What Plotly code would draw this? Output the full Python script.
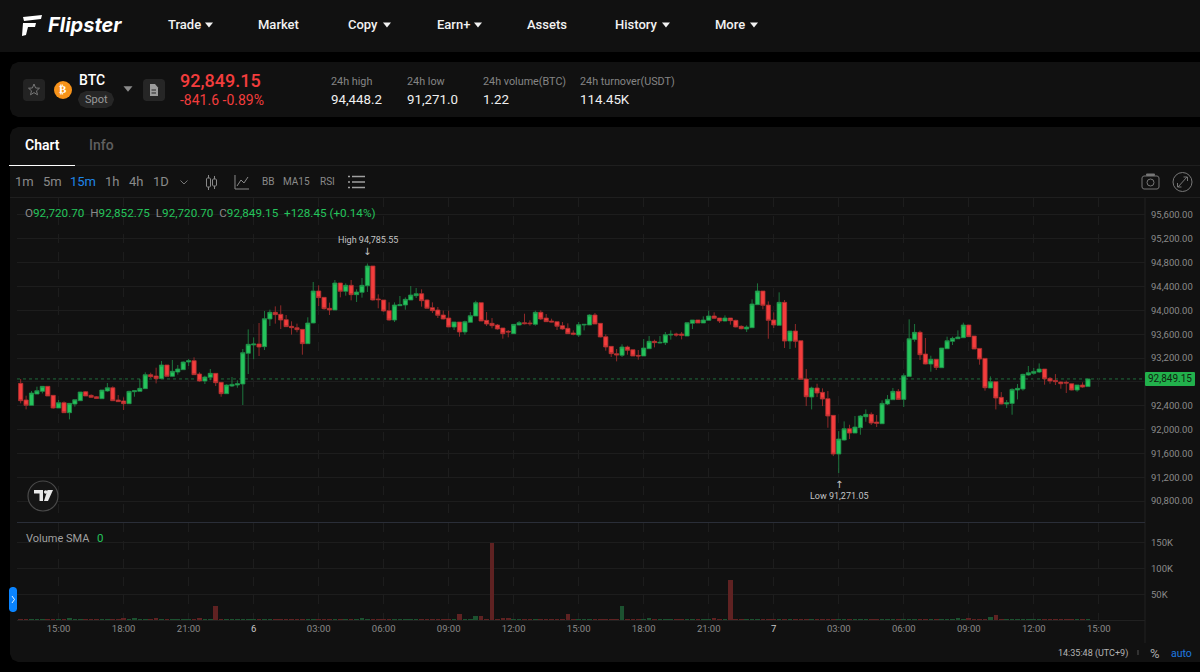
import pandas as pd
import plotly.graph_objects as go

W, H = 1200, 672

times = pd.date_range("2025-03-05 13:15", periods=198, freq="15min")

opens = [
    92775, 92496, 92406, 92596, 92641, 92725, 92574, 92361, 92451, 92283,
    92428, 92484, 92635, 92574, 92551, 92518, 92647, 92702, 92496, 92479,
    92434, 92635, 92641, 92686, 92921, 92898, 92854, 93083, 92893, 92965,
    93005, 93133, 93156, 92932, 92814, 92876, 92943, 92792, 92602, 92730,
    92747, 92764, 93279, 93419, 93435, 93391, 93855, 93967, 93933, 93844,
    93732, 93709, 93681, 93441, 93788, 94325, 94218, 94034, 94006, 94459,
    94319, 94420, 94263, 94302, 94414, 94744, 94190, 94174, 93995, 93838,
    94078, 94090, 94174, 94246, 94280, 94174, 94045, 94006, 93922, 93871,
    93720, 93804, 93637, 93799, 93905, 94129, 93832, 93782, 93754, 93704,
    93648, 93609, 93754, 93793, 93788, 93765, 93967, 93871, 93821, 93810,
    93743, 93698, 93620, 93586, 93754, 93754, 93922, 93782, 93558, 93396,
    93273, 93245, 93385, 93340, 93245, 93234, 93357, 93480, 93452, 93458,
    93586, 93603, 93603, 93569, 93782, 93838, 93788, 93832, 93905, 93871,
    93821, 93871, 93832, 93732, 93687, 93709, 94095, 94324, 94089, 93838,
    93748, 94134, 93485, 93653, 93491, 92848, 92545, 92697, 92624, 92518,
    92238, 91589, 91824, 92014, 91941, 92031, 92215, 92255, 92126, 92098,
    92428, 92501, 92641, 92506, 92892, 93513, 93631, 93267, 93099, 93178,
    93038, 93357, 93480, 93524, 93541, 93754, 93569, 93362, 93194, 92697,
    92803, 92540, 92428, 92439, 92663, 92680, 92915, 92943, 92965, 93015,
    92859, 92825, 92797, 92792, 92769, 92663, 92747, 92720.70,
]
highs = [
    92848, 92568, 92647, 92719, 92725, 92725, 92574, 92496, 92473, 92440,
    92501, 92630, 92647, 92591, 92563, 92663, 92781, 92725, 92579, 92540,
    92652, 92652, 92848, 92960, 92954, 93038, 93150, 93083, 93167, 93083,
    93144, 93184, 93211, 92960, 92904, 93016, 92943, 92792, 92758, 92881,
    92826, 93351, 93681, 93547, 93788, 93989, 94012, 94067, 94084, 93922,
    93816, 93777, 93681, 93883, 94476, 94420, 94218, 94129, 94509, 94459,
    94453, 94509, 94353, 94543, 94785.55, 94744, 94269, 94174, 94135, 94134,
    94241, 94218, 94409, 94375, 94353, 94185, 94134, 94056, 93995, 93995,
    93804, 93804, 93827, 93972, 94162, 94129, 93972, 93871, 93771, 93704,
    93670, 93765, 93821, 93944, 93832, 93995, 94000, 93939, 93860, 93810,
    93804, 93782, 93664, 93804, 93765, 93933, 93955, 93782, 93597, 93396,
    93351, 93430, 93407, 93340, 93334, 93519, 93569, 93508, 93569, 93637,
    93664, 93625, 93637, 93799, 93838, 93838, 93899, 93995, 93967, 93871,
    93916, 93871, 93843, 93748, 93748, 94185, 94453, 94324, 94151, 93966,
    94302, 94173, 93653, 93771, 93491, 93015, 92719, 92769, 92691, 92646,
    92238, 91975, 92137, 92081, 92227, 92243, 92338, 92288, 92243, 92490,
    92579, 92697, 92680, 92943, 93849, 93771, 93659, 93536, 93239, 93178,
    93368, 93558, 93558, 93664, 93793, 93754, 93569, 93362, 93194, 92892,
    92803, 92629, 92495, 92691, 92764, 92937, 93066, 93032, 93110, 93015,
    92881, 92931, 92808, 92820, 92769, 92747, 92792, 92852.75,
]
lows = [
    92440, 92339, 92406, 92596, 92607, 92563, 92350, 92361, 92283, 92171,
    92384, 92484, 92563, 92529, 92518, 92518, 92635, 92479, 92462, 92328,
    92434, 92551, 92641, 92686, 92865, 92775, 92854, 92893, 92887, 92921,
    93005, 93066, 92921, 92803, 92764, 92826, 92730, 92551, 92596, 92714,
    92702, 92412, 92932, 93178, 93234, 93335, 93737, 93777, 93687, 93721,
    93592, 93631, 93256, 93441, 93782, 94073, 94012, 93922, 94006, 94218,
    94246, 94168, 94140, 94213, 94308, 94163, 94034, 93978, 93827, 93804,
    94073, 94011, 94174, 94207, 94062, 94034, 93955, 93871, 93849, 93720,
    93670, 93558, 93592, 93799, 93905, 93821, 93737, 93698, 93676, 93525,
    93547, 93609, 93748, 93765, 93743, 93743, 93838, 93804, 93799, 93670,
    93676, 93603, 93581, 93553, 93664, 93754, 93771, 93547, 93323, 93217,
    93144, 93217, 93256, 93234, 93172, 93234, 93357, 93379, 93446, 93418,
    93508, 93558, 93513, 93569, 93687, 93788, 93788, 93827, 93855, 93788,
    93816, 93760, 93715, 93681, 93637, 93704, 94090, 94017, 93524, 93703,
    93748, 93368, 93351, 93373, 92836, 92394, 92338, 92545, 92394, 92031,
    91555, 91271.05, 91813, 91841, 91941, 91913, 92131, 92076, 92042, 92098,
    92411, 92495, 92501, 92378, 92887, 93474, 93166, 93094, 92971, 92999,
    93038, 93357, 93418, 93519, 93541, 93558, 93351, 93088, 92652, 92697,
    92338, 92422, 92361, 92249, 92506, 92652, 92904, 92920, 92948, 92753,
    92769, 92747, 92685, 92613, 92657, 92635, 92702, 92720.70,
]
closes = [
    92484, 92406, 92613, 92652, 92725, 92563, 92361, 92451, 92283, 92440,
    92501, 92630, 92563, 92540, 92523, 92663, 92702, 92484, 92468, 92434,
    92641, 92652, 92691, 92921, 92887, 92854, 93083, 92893, 92977, 93016,
    93133, 93156, 92921, 92814, 92881, 92943, 92786, 92602, 92747, 92758,
    92770, 93290, 93430, 93435, 93385, 93860, 93967, 93928, 93838, 93726,
    93709, 93676, 93441, 93788, 94325, 94213, 94028, 94006, 94459, 94319,
    94420, 94263, 94308, 94420, 94744, 94174, 94179, 93989, 93838, 94090,
    94095, 94185, 94257, 94280, 94162, 94034, 93995, 93916, 93855, 93720,
    93804, 93637, 93810, 93911, 94129, 93821, 93771, 93743, 93687, 93609,
    93637, 93765, 93793, 93776, 93776, 93967, 93855, 93810, 93804, 93732,
    93687, 93609, 93597, 93760, 93765, 93922, 93771, 93553, 93385, 93273,
    93250, 93385, 93329, 93234, 93234, 93368, 93480, 93458, 93463, 93592,
    93597, 93586, 93581, 93793, 93838, 93788, 93838, 93905, 93866, 93821,
    93871, 93827, 93720, 93692, 93720, 94106, 94325, 94084, 93832, 93754,
    94134, 93485, 93653, 93480, 92842, 92551, 92697, 92613, 92512, 92227,
    91589, 91841, 92014, 91941, 92042, 92227, 92255, 92109, 92104, 92439,
    92506, 92641, 92506, 92904, 93524, 93631, 93256, 93099, 93178, 93043,
    93368, 93491, 93530, 93552, 93754, 93558, 93351, 93183, 92702, 92803,
    92529, 92428, 92450, 92674, 92691, 92926, 92954, 92976, 93015, 92853,
    92814, 92803, 92769, 92780, 92663, 92747, 92713, 92849.15,
]
volumes = [
    600, 600, 600, 600, 600, 600, 600, 600, 600, 3000,
    1800, 600, 600, 600, 600, 600, 600, 600, 1500, 2000,
    600, 2000, 600, 600, 600, 2000, 1500, 600, 600, 600,
    600, 600, 600, 2000, 600, 600, 26500, 600, 600, 600,
    600, 600, 600, 600, 1500, 1500, 1500, 600, 600, 600,
    600, 600, 600, 600, 600, 600, 600, 600, 600, 600,
    600, 600, 600, 4000, 1500, 600, 600, 600, 600, 600,
    600, 600, 600, 600, 600, 600, 600, 1500, 600, 1500,
    600, 11700, 600, 1500, 7500, 8500, 600, 150000, 600, 2000,
    2000, 600, 600, 600, 600, 600, 600, 600, 600, 1500,
    600, 11700, 600, 600, 600, 600, 600, 600, 600, 600,
    600, 27000, 600, 600, 600, 600, 2000, 600, 600, 600,
    600, 600, 600, 600, 600, 600, 600, 600, 2000, 600,
    600, 77000, 600, 600, 600, 600, 600, 600, 600, 600,
    600, 600, 600, 600, 600, 1500, 600, 600, 600, 600,
    600, 600, 600, 600, 600, 600, 600, 600, 600, 600,
    600, 600, 600, 600, 600, 600, 600, 600, 600, 600,
    600, 600, 600, 2000, 600, 2000, 600, 1500, 600, 5500,
    9500, 600, 600, 600, 600, 600, 600, 600, 1500, 600,
    600, 1500, 600, 600, 600, 600, 600, 600,
]

price_ticks = [90800, 91200, 91600, 92000, 92400, 92800, 93200, 93600, 94000, 94400, 94800, 95200, 95600]
# the 92,800.00 label sits behind the last price tag in the app
price_tick_labels = ["90,800.00", "91,200.00", "91,600.00", "92,000.00", "92,400.00", "", "93,200.00", "93,600.00",
                     "94,000.00", "94,400.00", "94,800.00", "95,200.00", "95,600.00"]
volume_ticks = [50000, 100000, 150000]
volume_tick_labels = ["50K", "100K", "150K"]
time_ticks = ["2025-03-05 15:00", "2025-03-05 18:00", "2025-03-05 21:00", "2025-03-06 00:00",
              "2025-03-06 03:00", "2025-03-06 06:00", "2025-03-06 09:00", "2025-03-06 12:00",
              "2025-03-06 15:00", "2025-03-06 18:00", "2025-03-06 21:00", "2025-03-07 00:00",
              "2025-03-07 03:00", "2025-03-07 06:00", "2025-03-07 09:00", "2025-03-07 12:00",
              "2025-03-07 15:00"]
time_labels = ["15:00", "18:00", "21:00", "<span style='color:#c8c8c8'>6</span>", "03:00", "06:00", "09:00", "12:00",
               "15:00", "18:00", "21:00", "<span style='color:#c8c8c8'>7</span>", "03:00", "06:00", "09:00", "12:00",
               "15:00"]

last_price = 92849.15

GREEN = "#25c45c"
RED = "#f33d3d"
PANEL = "#111111"
GRID = "#1d1d1d"
FONT = "Roboto"

shapes = []
notes = []


def fx(x):
    return x / W


def fy(y):
    return 1 - y / H


def poly(points, fill=None, line=None, width=1, close=True, layer="above"):
    d = "M" + " L".join(f"{fx(x):.5f},{fy(y):.5f}" for x, y in points)
    if close:
        d += " Z"
    shapes.append(dict(type="path", path=d, xref="paper", yref="paper", layer=layer,
                       fillcolor=fill or "rgba(0,0,0,0)",
                       line=dict(color=line or "rgba(0,0,0,0)", width=width if line else 0)))


def rrect(x0, y0, x1, y1, r, fill, layer="below", line=None):
    # rounded box, corners cut in three steps which is enough at this size
    k = 0.3 * r
    pts = [(x0 + r, y0), (x1 - r, y0), (x1 - k, y0 + k), (x1, y0 + r), (x1, y1 - r), (x1 - k, y1 - k),
           (x1 - r, y1), (x0 + r, y1), (x0 + k, y1 - k), (x0, y1 - r), (x0, y0 + r), (x0 + k, y0 + k)]
    poly(pts, fill=fill, line=line, layer=layer)


def hline(x0, x1, y, color, width=1, layer="below"):
    poly([(x0, y), (x1, y)], line=color, width=width, close=False, layer=layer)


def vline(x, y0, y1, color, width=1, layer="below"):
    poly([(x, y0), (x, y1)], line=color, width=width, close=False, layer=layer)


def circle(cx, cy, r, fill=None, line=None, width=1):
    shapes.append(dict(type="circle", xref="paper", yref="paper", x0=fx(cx - r), x1=fx(cx + r),
                       y0=fy(cy + r), y1=fy(cy - r), fillcolor=fill or "rgba(0,0,0,0)",
                       line=dict(color=line or "rgba(0,0,0,0)", width=width if line else 0)))


def label(x, y, text, size=12, color="#ffffff", anchor="left", weight=400, family=FONT, style="normal"):
    notes.append(dict(x=fx(x), y=fy(y), xref="paper", yref="paper", text=text, showarrow=False,
                      xanchor=anchor, yanchor="middle", borderpad=0, align=anchor,
                      font=dict(size=size, color=color, family=family, weight=weight, style=style)))


def tri(cx, cy, s, color):
    poly([(cx - s, cy - s * 0.6), (cx + s, cy - s * 0.6), (cx, cy + s * 0.6)], fill=color)


# page panels
rrect(-2, -2, 1202, 52, 0.1, PANEL)
rrect(10, 62, 1210, 117, 8, PANEL)
rrect(10, 127, 1210, 662, 8, PANEL)

# nav
poly([(23, 17), (42, 15), (41, 19), (24, 21)], fill="#ffffff")
poly([(23, 23), (36, 23), (35, 27), (28, 27), (26, 35), (22, 36)], fill="#ffffff")
label(47, 25, "Flipster", 20, "#ffffff", weight=700, style="italic", family="Inter")
for x, txt in [(184, "Trade"), (278, "Market"), (363, "Copy"), (453, "Earn+"), (547, "Assets"), (636, "History"), (730, "More")]:
    label(x, 25, txt, 13, "#f2f2f2", anchor="center", weight=500)
for x in [209, 387, 478, 666, 754]:
    tri(x, 25, 4, "#f2f2f2")

# ticker row
rrect(23, 79, 45, 101, 3, "#232323")
star = [(34, 84), (35.6, 88), (39.5, 88.2), (36.5, 90.8), (37.5, 94.8), (34, 92.6), (30.5, 94.8), (31.5, 90.8), (28.5, 88.2), (32.4, 88)]
poly(star, line="#777777", width=1)
circle(63, 90, 9, fill="#f7931a")
label(63, 90, "₿", 11, "#ffffff", anchor="center", weight=700, family="DejaVu Sans")
label(78, 80, "BTC", 14, "#ffffff", weight=500)
rrect(78, 91, 114, 108, 8, "#262626", layer="above")
label(96, 99.5, "Spot", 11, "#9a9a9a", anchor="center")
tri(128, 89, 4.5, "#8a8a8a")
rrect(143, 79, 165, 101, 3, "#262626")
poly([(150, 84), (155, 84), (158, 87.5), (158, 96), (150, 96)], fill="#9c9c9c")
hline(151.5, 156, 90, "#262626", layer="above")
hline(151.5, 156, 93, "#262626", layer="above")
label(179, 80, "92,849.15", 18, RED, weight=500)
label(179, 100, "-841.6 -0.89%", 14, RED)
for x, top, bottom in [(330, "24h high", "94,448.2"), (406, "24h low", "91,271.0"),
                       (482, "24h volume(BTC)", "1.22"), (579, "24h turnover(USDT)", "114.45K")]:
    label(x, 81, top, 10.8, "#858585")
    label(x, 99, bottom, 13.3, "#f0f0f0")

# tabs
label(42, 145, "Chart", 14, "#ffffff", anchor="center", weight=600)
label(101, 145, "Info", 14, "#5f5f5f", anchor="center", weight=500)
hline(10, 1200, 165.5, "#1f1f1f")
hline(9, 75, 165.5, "#ffffff", layer="above")

# toolbar
for x, txt, col in [(24, "1m", "#8a8a8a"), (52, "5m", "#8a8a8a"), (83, "15m", "#1f86e8"),
                    (111.5, "1h", "#8a8a8a"), (136, "4h", "#8a8a8a"), (161, "1D", "#8a8a8a")]:
    label(x, 182, txt, 13, col, anchor="center")
poly([(180.5, 180.5), (184, 184), (187.5, 180.5)], line="#777777", close=False)
vline(208.5, 175, 190, "#8a8a8a")
rrect(206.5, 178, 210.5, 187, 1, PANEL, layer="above", line="#8a8a8a")
vline(214.5, 176, 189, "#8a8a8a", layer="above")
rrect(212.5, 179, 216.5, 186, 1, PANEL, layer="above", line="#8a8a8a")
poly([(235, 175), (235, 189), (249, 189)], line="#8a8a8a", close=False)
poly([(237, 186), (241, 180), (244, 183), (248, 177)], line="#8a8a8a", close=False)
label(268, 182, "BB", 10, "#8a8a8a", anchor="center")
label(296.5, 182, "MA15", 10, "#8a8a8a", anchor="center")
label(327, 182, "RSI", 10, "#8a8a8a", anchor="center")
for y in [176.5, 182, 187.5]:
    hline(352, 365, y, "#a0a0a0", width=1.5, layer="above")
    hline(348, 350, y, "#a0a0a0", width=1.5, layer="above")
rrect(1142, 176, 1159, 189, 2, PANEL, layer="above", line="#777777")
rrect(1146, 173.5, 1155, 176, 1, "#777777", layer="above")
circle(1150.5, 182.5, 3.5, line="#777777")
circle(1182.5, 182, 9.5, line="#777777")
poly([(1178, 187), (1187, 177)], line="#777777", close=False)
poly([(1183.5, 177), (1187.5, 177), (1187.5, 181)], line="#777777", close=False)
poly([(1177.5, 183), (1177.5, 187), (1181.5, 187)], line="#777777", close=False)
hline(10, 1200, 197.5, "#1f1f1f")


# OHLC legend
def ohlc_span(letter, value):
    return f"<span style='color:#8a8a8a'>{letter}</span><span style='color:{GREEN}'>{value}</span>"


legend_text = "  ".join(ohlc_span(a, b) for a, b in [("O", "92,720.70"), ("H", "92,852.75"), ("L", "92,720.70"), ("C", "92,849.15")])
label(24, 213, legend_text + f"<span style='color:{GREEN}'>  +128.45 (+0.14%)</span>", 11.7)

# chart frames and markers
vline(1145, 198, 643, "#222222")
hline(17, 1145, 522.5, "#2a2e38")
hline(17, 1145, 620.5, "#222222")

label(367.5, 240, "High 94,785.55", 9, "#c4c4c4", anchor="center")
label(367, 251, "↓", 10, "#c4c4c4", anchor="center", family="DejaVu Sans")
label(838.5, 484, "↑", 10, "#c4c4c4", anchor="center", family="DejaVu Sans")
label(839, 496, "Low 91,271.05", 9, "#c4c4c4", anchor="center")

rrect(1145, 372, 1195, 386, 1, "#22b14c", layer="above")
label(1170, 378.5, "92,849.15", 10, "#10240f", anchor="center")

circle(43, 496, 15, fill="#151515", line="#4a4a4a", width=1.2)
poly([(34, 490), (43, 490), (43, 501), (39.5, 501), (39.5, 493.5), (34, 493.5)], fill="#e8e8e8")
circle(45.7, 492, 1.8, fill="#e8e8e8")
poly([(47.5, 490), (53, 490), (48, 501), (44, 501)], fill="#e8e8e8")

label(25, 538, "Volume SMA", 11, "#a0a0a0")
label(96, 538, "0", 11.5, GREEN)

rrect(9, 587, 17, 612, 3, "#0a84ff", layer="above")
poly([(12, 596), (14.5, 599.5), (12, 603)], line="#e8f3ff", close=False)

# status bar
label(1129, 653, "14:35:48 (UTC+9)", 9, "#b4b4b4", anchor="right")
vline(1138, 650, 655, "#555555", layer="above")
label(1154.5, 653.5, "%", 13, "#a8a8a8", anchor="center")
label(1181, 653, "auto", 10.5, "#1f7ae0", anchor="center")

fig = go.Figure()

fig.add_trace(go.Candlestick(
    x=times, open=opens, high=highs, low=lows, close=closes,
    increasing=dict(line=dict(color="#1f8f49", width=0.8), fillcolor=GREEN),
    decreasing=dict(line=dict(color="#b03030", width=0.8), fillcolor=RED),
    whiskerwidth=0, showlegend=False, hoverinfo="skip",
    xaxis="x", yaxis="y",
))

bar_colors = ["#1c5230" if c >= o else "#5f2222" for o, c in zip(opens, closes)]
fig.add_trace(go.Bar(
    x=times, y=volumes, marker=dict(color=bar_colors, line=dict(width=0)),
    width=[15 * 60 * 1000 * 0.85] * len(times), showlegend=False, hoverinfo="skip",
    xaxis="x2", yaxis="y2",
))

# line from the last close across the pane, after the panels so they don't cover it
shapes.append(dict(type="line", xref="x domain", yref="y", x0=0, x1=1, y0=last_price, y1=last_price,
                   layer="below", line=dict(color="#1f6b3b", width=1, dash="dot")))

x_range = [times[0] - pd.Timedelta(minutes=10.2), times[0] + pd.Timedelta(minutes=3113)]
x_common = dict(range=x_range, type="date", showline=False, zeroline=False, showgrid=True,
                gridcolor=GRID, griddash="dash", gridwidth=1, tickmode="array", tickvals=time_ticks,
                rangeslider=dict(visible=False))
y_common = dict(side="right", showline=False, zeroline=False, showgrid=True, gridcolor=GRID, gridwidth=1,
                tickfont=dict(size=9.5, color="#8a8a8a", family=FONT), ticks="", tickmode="array",
                ticklabelstandoff=5)

fig.update_layout(
    width=W, height=H, margin=dict(l=0, r=0, t=0, b=0),
    paper_bgcolor="#000000", plot_bgcolor="rgba(0,0,0,0)",
    font=dict(family=FONT), showlegend=False, bargap=0, boxgap=0.22, boxgroupgap=0,
    xaxis=dict(domain=[fx(17), fx(1145)], anchor="y", showticklabels=False, ticks="", **x_common),
    xaxis2=dict(domain=[fx(17), fx(1145)], anchor="y2", matches="x", ticktext=time_labels, ticks="",
                tickfont=dict(size=9.5, color="#8a8a8a", family=FONT), **x_common),
    yaxis=dict(domain=[fy(522), fy(198)], anchor="x", range=[90449, 95885], tickvals=price_ticks,
               ticktext=price_tick_labels, **y_common),
    yaxis2=dict(domain=[fy(621), fy(523)], anchor="x2", range=[-2000, 188700], tickvals=volume_ticks,
                ticktext=volume_tick_labels, **y_common),
    shapes=shapes,
    annotations=notes,
)

fig.write_html("out.html", config={"displayModeBar": False},
               post_script="document.body.style.margin='0';document.body.style.background='#000';")
